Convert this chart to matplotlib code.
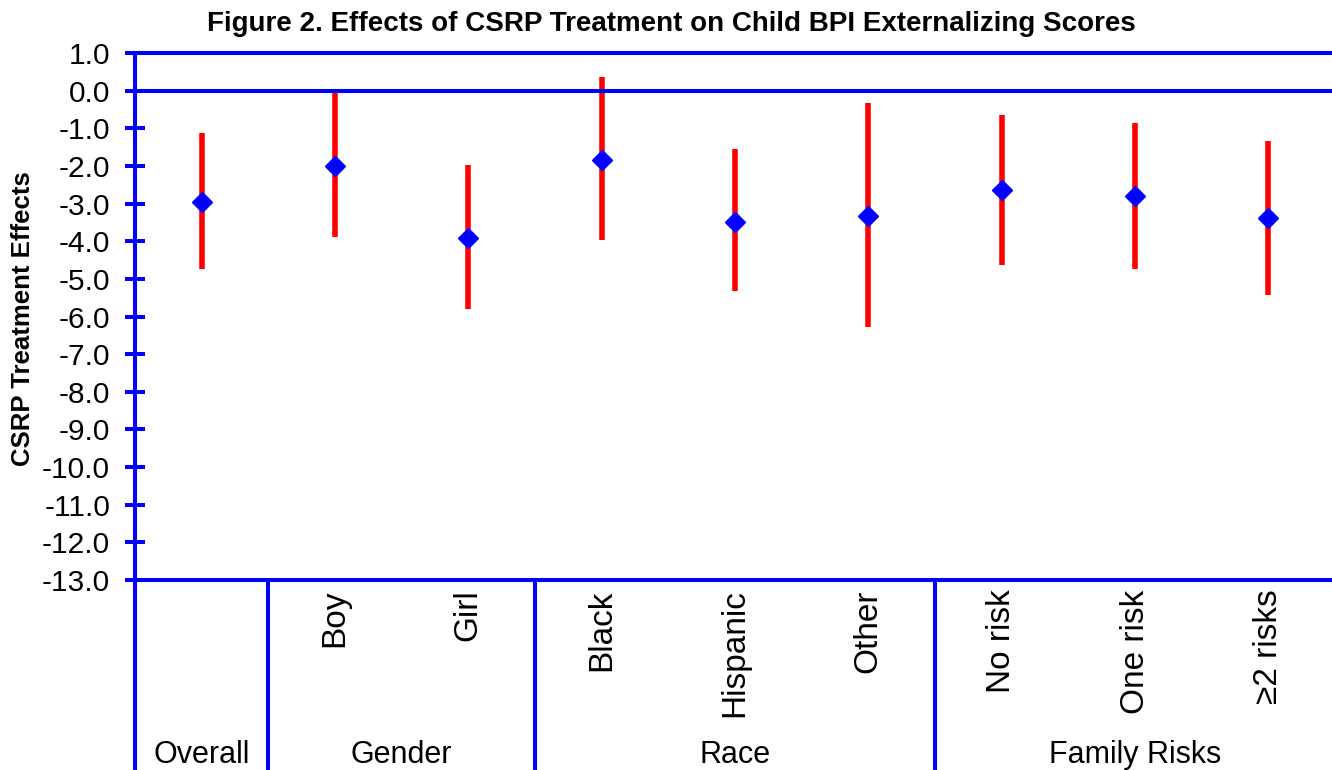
import matplotlib.pyplot as plt

# Figure 2 - CSRP treatment effects on child BPI externalizing scores
categories = ['Overall', 'Boy', 'Girl', 'Black', 'Hispanic', 'Other',
              'No risk', 'One risk', '≥2 risks']
estimates = [-2.96, -2.00, -3.91, -1.84, -3.49, -3.33, -2.64, -2.80, -3.38]
lower = [-4.73, -3.88, -5.79, -3.98, -5.31, -6.27, -4.62, -4.73, -5.42]
upper = [-1.12, -0.02, -1.97, 0.36, -1.55, -0.33, -0.65, -0.86, -1.34]

groups = ['Overall', 'Gender', 'Race', 'Family Risks']
group_first = [0, 1, 3, 6]
group_last = [0, 2, 5, 8]

y_ticks = list(range(1, -14, -1))

plt.rcParams['font.family'] = ['Liberation Sans', 'DejaVu Sans']

blue = '#0000FF'
red = '#FF0000'
lw = 2.9

fig = plt.figure(figsize=(13.32, 7.70), dpi=100)
ax = fig.add_axes([135 / 1332, 190 / 770, 1200 / 1332, 527 / 770])

x = list(range(len(categories)))

# confidence intervals and point estimates
ax.vlines(x, lower, upper, color=red, linewidth=4.0, zorder=2)
ax.axhline(0, color=blue, linewidth=lw, zorder=3)
ax.plot(x, estimates, linestyle='none', marker='D', markersize=10,
        color=blue, markeredgecolor=blue, markeredgewidth=1, zorder=4)

ax.set_xlim(-0.5, 8.5)
ax.set_ylim(-13, 1)
ax.set_yticks(y_ticks)
ax.set_yticklabels([f'{v:.1f}' for v in y_ticks])
ax.set_xticks([])
ax.tick_params(axis='y', direction='inout', length=14, width=lw,
               color=blue, labelsize=21.5, pad=11)

for side in ['left', 'top', 'bottom']:
    ax.spines[side].set_color(blue)
    ax.spines[side].set_linewidth(lw)
ax.spines['right'].set_visible(False)

# category table under the plot
xt = ax.get_xaxis_transform()
for xv in [-0.5, 0.5, 2.5, 5.5]:
    ax.plot([xv, xv], [0, -0.37], transform=xt, color=blue, linewidth=lw,
            clip_on=False, solid_capstyle='butt')

for i, lab in enumerate(categories):
    if i == 0:
        continue
    ax.text(i, -0.018, lab, transform=xt, rotation=90, ha='center',
            va='top', fontsize=24)

for g, a, b in zip(groups, group_first, group_last):
    ax.text((a + b) / 2, -0.347, g, transform=xt, ha='center',
            va='baseline', fontsize=22)

fig.text(671 / 1332, 1 - 31 / 770,
         'Figure 2. Effects of CSRP Treatment on Child BPI Externalizing Scores',
         ha='center', va='baseline', fontsize=20, fontweight='bold')
fig.text(23 / 1332, 1 - 319 / 770, 'CSRP Treatment Effects', rotation=90,
         ha='center', va='center', fontsize=18.5, fontweight='bold')

fig.savefig('out.png', dpi=100)
